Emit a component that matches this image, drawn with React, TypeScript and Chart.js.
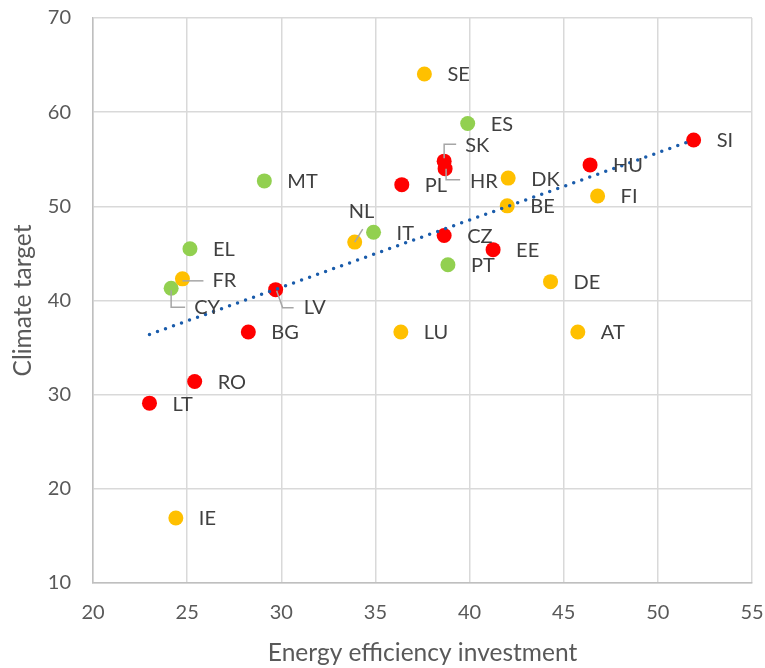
import React, { useEffect, useRef } from "react";
import { Chart, registerables } from "chart.js";

Chart.register(...registerables);

const codes = ["SE", "ES", "SK", "HR", "HU", "SI", "MT", "PL", "DK", "FI", "BE", "NL", "IT", "CZ", "EE", "PT", "DE", "EL", "FR", "CY", "LV", "BG", "LU", "AT", "RO", "LT", "IE"];
const investment = [37.6, 39.9, 38.65, 38.7, 46.4, 51.9, 29.1, 36.4, 42.05, 46.8, 42.0, 33.9, 34.9, 38.65, 41.25, 38.85, 44.3, 25.15, 24.75, 24.15, 29.7, 28.25, 36.35, 45.75, 25.4, 23.0, 24.4];
const climate = [64.05, 58.8, 54.8, 54.0, 54.4, 57.05, 52.7, 52.3, 53.0, 51.1, 50.05, 46.2, 47.25, 46.9, 45.4, 43.8, 42.0, 45.5, 42.3, 41.3, 41.15, 36.65, 36.65, 36.65, 31.4, 29.1, 16.9];
const groups = ["orange", "green", "red", "red", "red", "red", "green", "red", "orange", "orange", "orange", "orange", "green", "red", "red", "green", "orange", "green", "orange", "green", "red", "red", "orange", "orange", "red", "red", "orange"];
const trendX = [23.0, 51.9];
const trendY = [36.4, 57.05];
const xTicks = [20, 25, 30, 35, 40, 45, 50, 55];
const yTicks = [10, 20, 30, 40, 50, 60, 70];

const groupColors: Record<string, string> = { red: "#FF0000", orange: "#FFC000", green: "#92D050" };
const FONT = "Lato, 'Open Sans', sans-serif";

// label placement (pixels relative to point): text left/center offset, optional leader polyline
const labelPlacement: Record<string, { t: [number, number]; l?: [number, number][] }> = {
  SK: { t: [21, -16], l: [[0, -3], [0, -17], [12, -17]] },
  HR: { t: [25, 13], l: [[1, 0], [1, 11], [15, 11]] },
  NL: { t: [-6, -31], l: [[0, 0], [8, -13]] },
  FR: { t: [30, 2], l: [[0, 2], [21, 2]] },
  CY: { t: [23, 19], l: [[0, 2], [0, 19], [14, 19]] },
  LV: { t: [28, 18], l: [[1, 1], [7, 18], [18, 18]] },
};

const labelPlugin = {
  id: "pointLabels",
  afterDatasetsDraw(chart: any) {
    const ctx = chart.ctx;
    const xs = chart.scales.x;
    const ys = chart.scales.y;
    ctx.save();
    codes.forEach((c, i) => {
      const px = xs.getPixelForValue(investment[i]);
      const py = ys.getPixelForValue(climate[i]);
      const p = labelPlacement[c] || { t: [23, 1] };
      if (p.l) {
        ctx.strokeStyle = "#A6A6A6";
        ctx.lineWidth = 1.5;
        ctx.beginPath();
        p.l.forEach(([dx, dy], k) => {
          if (k === 0) ctx.moveTo(px + dx, py + dy);
          else ctx.lineTo(px + dx, py + dy);
        });
        ctx.stroke();
      }
      ctx.fillStyle = "#404040";
      ctx.font = `20px ${FONT}`;
      ctx.textAlign = "left";
      ctx.textBaseline = "middle";
      ctx.fillText(c, px + p.t[0], py + p.t[1]);
    });
    ctx.restore();
  },
};

export default function App() {
  const ref = useRef<HTMLCanvasElement>(null);
  useEffect(() => {
    if (!ref.current) return;
    const mk = (g: string) => ({
      type: "scatter" as const,
      label: g,
      data: codes.map((_, i) => i).filter((i) => groups[i] === g).map((i) => ({ x: investment[i], y: climate[i] })),
      backgroundColor: groupColors[g],
      borderColor: groupColors[g],
      borderWidth: 0,
      pointRadius: 7.5,
      order: 1,
    });
    const chart = new Chart(ref.current, {
      type: "scatter",
      data: {
        datasets: [
          {
            type: "line",
            label: "trend",
            data: trendX.map((x, i) => ({ x, y: trendY[i] })),
            borderColor: "#1A5CAB",
            borderWidth: 3.5,
            borderDash: [0, 8.5],
            borderCapStyle: "round",
            pointRadius: 0,
            fill: false,
            order: 0,
          } as any,
          mk("red"),
          mk("orange"),
          mk("green"),
        ],
      },
      options: {
        animation: false,
        responsive: true,
        maintainAspectRatio: false,
        layout: { padding: { top: 18, right: 13, left: 0, bottom: 0 } },
        plugins: { legend: { display: false }, tooltip: { enabled: false } },
        scales: {
          x: {
            type: "linear",
            min: 20,
            max: 55,
            afterBuildTicks: (s: any) => { s.ticks = xTicks.map((v) => ({ value: v })); },
            afterFit: (s: any) => { s.height = 85; s.paddingLeft = 0; s.paddingRight = 0; },
            grid: { color: "#D9D9D9", lineWidth: 1.5, drawTicks: false },
            border: { color: "#BFBFBF", width: 1.5 },
            ticks: { color: "#595959", font: { family: FONT, size: 20 }, padding: 18 },
            title: { display: true, text: "Energy efficiency investment", color: "#595959", font: { family: FONT, size: 24.5 }, padding: { top: 0, bottom: 0 } },
          },
          y: {
            type: "linear",
            min: 10,
            max: 70,
            afterBuildTicks: (s: any) => { s.ticks = yTicks.map((v) => ({ value: v })); },
            afterFit: (s: any) => { s.width = 93; s.paddingTop = 0; s.paddingBottom = 0; },
            grid: { color: "#D9D9D9", lineWidth: 1.5, drawTicks: false },
            border: { color: "#BFBFBF", width: 1.5 },
            ticks: { color: "#595959", font: { family: FONT, size: 20 }, padding: 22 },
            title: { display: true, text: "Climate target", color: "#595959", font: { family: FONT, size: 24.5 }, padding: { top: 8, bottom: 0 } },
          },
        },
      } as any,
      plugins: [labelPlugin],
    });
    return () => chart.destroy();
  }, []);
  return (
    <div style={{ position: "fixed", left: 0, top: 0, width: 765, height: 668, background: "#fff" }}>
      <canvas ref={ref} />
    </div>
  );
}
